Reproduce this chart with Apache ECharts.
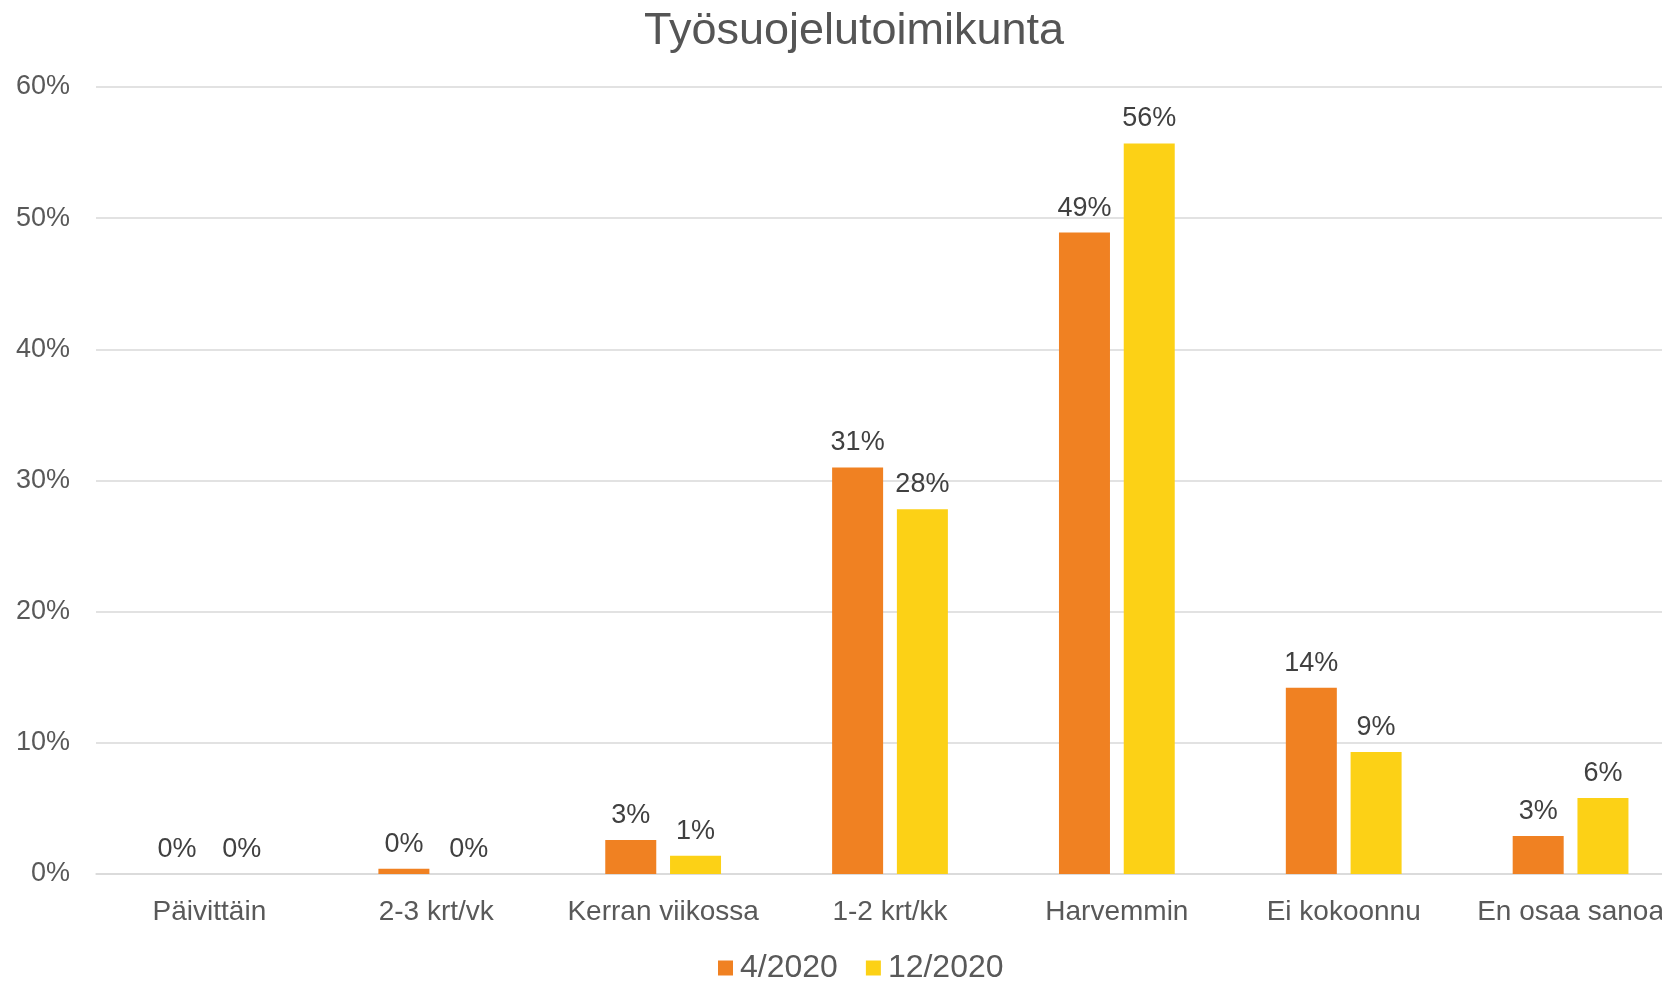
<!DOCTYPE html>
<html>
<head>
<meta charset="utf-8">
<script src="https://cdn.jsdelivr.net/npm/echarts@6/dist/echarts.min.js"></script>
<style>
  html, body { margin: 0; padding: 0; background: #fff; overflow: hidden; }
  /* kaavio jatkuu oikean reunan yli, kuten alkuperäisessä */
  #chart { width: 1690px; height: 981px; }
</style>
</head>
<body>
<div id="chart"></div>
<script>
  // kategoriat ja arvot (%)
  var categories = ['Päivittäin', '2-3 krt/vk', 'Kerran viikossa', '1-2 krt/kk', 'Harvemmin', 'Ei kokoonnu', 'En osaa sanoa'];
  var april2020 = [0, 0.4, 2.6, 31.0, 48.9, 14.2, 2.9];
  var dec2020 = [0, 0, 1.4, 27.8, 55.7, 9.3, 5.8];
  var seriesNames = ['4/2020', '12/2020'];
  var yTicks = [0, 10, 20, 30, 40, 50, 60];

  var font = 'Liberation Sans';

  var myChart = echarts.init(document.getElementById('chart'));

  function barSeries(name, data, color) {
    return {
      name: name,
      type: 'bar',
      data: data,
      barWidth: 51,
      barGap: '27%',
      itemStyle: { color: color },
      label: {
        show: true,
        position: 'top',
        distance: 11,
        fontFamily: font,
        fontSize: 27,
        color: '#404040',
        formatter: function (p) { return Math.round(p.value) + '%'; }
      }
    };
  }

  myChart.setOption({
    animation: false,
    title: {
      text: 'Työsuojelutoimikunta',
      left: 854,
      top: 9,
      padding: 0,
      textAlign: 'center',
      textStyle: { fontFamily: font, fontSize: 45, fontWeight: 'normal', color: '#555555' }
    },
    legend: {
      data: seriesNames,
      left: 718,
      top: 952,
      padding: 0,
      icon: 'rect',
      itemWidth: 15,
      itemHeight: 15,
      itemGap: 28,
      textStyle: { fontFamily: font, fontSize: 32, color: '#595959', padding: [0, 0, 0, 2] }
    },
    grid: {
      left: 96,
      top: 87,
      width: 1588,
      height: 787
    },
    xAxis: {
      type: 'category',
      data: categories,
      axisTick: { show: false },
      axisLine: { lineStyle: { color: '#d9d9d9', width: 1.5 } },
      axisLabel: {
        interval: 0,
        margin: 24,
        fontFamily: font,
        fontSize: 28,
        color: '#595959'
      }
    },
    yAxis: {
      type: 'value',
      min: yTicks[0],
      max: yTicks[yTicks.length - 1],
      interval: yTicks[1] - yTicks[0],
      axisLine: { show: false },
      axisTick: { show: false },
      splitLine: { lineStyle: { color: '#d9d9d9', width: 1.5 } },
      axisLabel: {
        margin: 26,
        fontFamily: font,
        fontSize: 27,
        color: '#595959',
        formatter: '{value}%'
      }
    },
    series: [
      barSeries(seriesNames[0], april2020, '#F08122'),
      barSeries(seriesNames[1], dec2020, '#FCD116')
    ]
  });
</script>
</body>
</html>
